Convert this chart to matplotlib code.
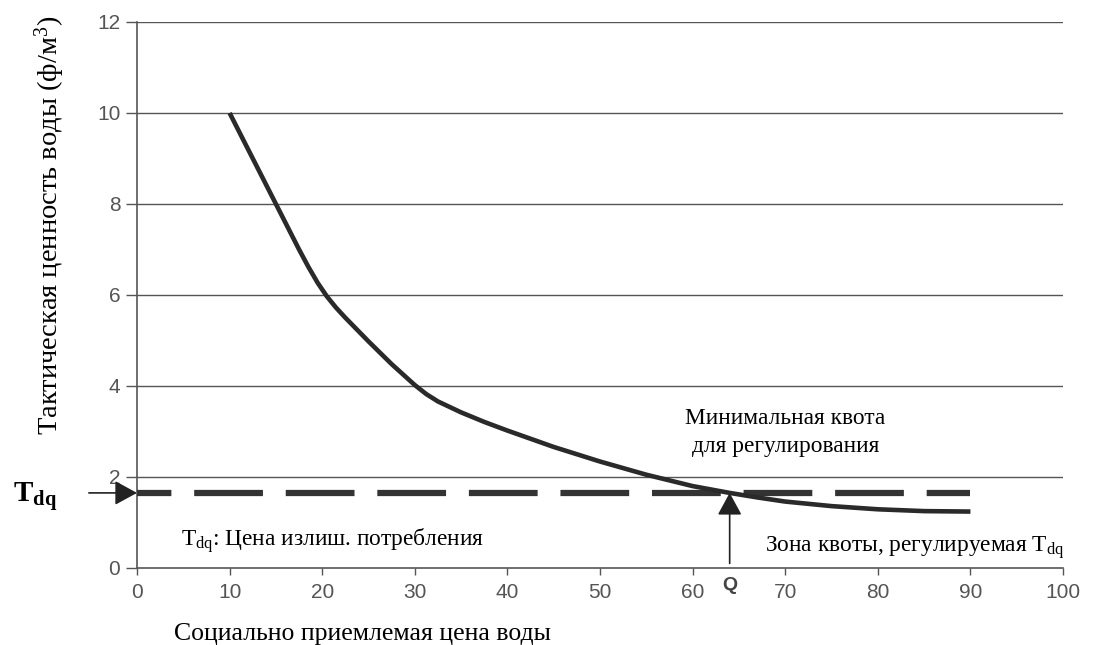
import matplotlib
matplotlib.use("Agg")
import matplotlib.pyplot as plt

serif = "Liberation Serif"
sans = "Liberation Sans"

# mathtext fonts must be set before any text is made
plt.rcParams["mathtext.fontset"] = "custom"
plt.rcParams["mathtext.rm"] = serif
plt.rcParams["mathtext.bf"] = serif + ":bold"
plt.rcParams["mathtext.it"] = serif + ":italic"

# curve
curve_x = [10, 12.5, 15, 17.5, 18.5, 19.5, 20.5, 21.5, 22.5, 25, 27.5, 30, 31.25, 32.5,
           35, 37.5, 40, 45, 50, 55, 60, 64, 67, 70, 75, 80, 85, 90]
curve_y = [10.0, 9.0, 8.0, 7.0, 6.62, 6.27, 5.97, 5.72, 5.5, 4.98, 4.48, 4.02, 3.82, 3.66,
           3.42, 3.21, 3.02, 2.66, 2.34, 2.05, 1.8, 1.65, 1.55, 1.46, 1.36, 1.29, 1.25, 1.24]

tdq = 1.65
q_x = 64
dash_x = [0, 90]

x_ticks = [0, 10, 20, 30, 40, 50, 60, 70, 80, 90, 100]
y_ticks = [0, 2, 4, 6, 8, 10, 12]

fig = plt.figure(figsize=(11.04, 6.45), dpi=100)
ax = fig.add_axes([0.1241, 0.1194, 0.8388, 0.8465])

ax.set_xlim(0, 100)
ax.set_ylim(0, 12)
ax.set_xticks(x_ticks)
ax.set_yticks(y_ticks)
for lab in ax.get_xticklabels() + ax.get_yticklabels():
    lab.set_fontfamily(sans)
ax.tick_params(labelsize=15, colors="#555555", width=1, direction="out")
ax.tick_params(axis="y", length=8, pad=4)
ax.tick_params(axis="x", length=5, pad=6)

for v in y_ticks[1:]:
    ax.axhline(v, color="#555555", lw=1.0, zorder=1)
for s in ["top", "right"]:
    ax.spines[s].set_visible(False)
for s in ["left", "bottom"]:
    ax.spines[s].set_color("#555555")
    ax.spines[s].set_linewidth(1.2)

ax.plot(curve_x, curve_y, color="#2a2a2a", lw=3.3, zorder=4,
        solid_capstyle="butt", solid_joinstyle="round")
ax.plot(dash_x, [tdq, tdq], color="#333333", lw=4.5,
        linestyle=(5.5, (11.0, 3.65)), zorder=3)

head = "-|>,head_length=0.55,head_width=0.3"
# arrow from left into the y axis
ax.annotate("", xy=(0, tdq), xytext=(-5.2, tdq), annotation_clip=False,
            arrowprops=dict(arrowstyle=head, color="#222222", lw=1.2, mutation_scale=25,
                            shrinkA=0, shrinkB=0))
# vertical arrow at Q
ax.annotate("", xy=(q_x, tdq), xytext=(q_x, 0.1),
            arrowprops=dict(arrowstyle=head, color="#222222", lw=1.2, mutation_scale=25,
                            shrinkA=0, shrinkB=0))

ax.text(-13.4, tdq - 0.08, r"$\mathbf{T_{dq}}$", fontsize=21, ha="left", va="center",
        clip_on=False)

ax.text(4.8, 0.61, r"$\mathrm{T_{dq}}$: Цена излиш. потребления", fontsize=16.8,
        fontfamily=serif, ha="left", va="center")
ax.text(100.2, 0.44, r"Зона квоты, регулируемая $\mathrm{T_{dq}}$", fontsize=16.8,
        fontfamily=serif, ha="right", va="center", clip_on=False)
ax.text(70, 2.98, "Минимальная квота\nдля регулирования", fontsize=16.8,
        fontfamily=serif, ha="center", va="center", linespacing=1.4)
ax.text(q_x, -0.38, "Q", fontsize=14, fontweight="bold", fontfamily=sans,
        color="#444444", ha="center", va="center", clip_on=False)

fig.text(0.158, 0.008, "Социально приемлемая цена воды", fontsize=18.5,
         fontfamily=serif, ha="left", va="baseline")
fig.text(0.045, 0.65, "Тактическая ценность воды (ф/м$^3$)", fontsize=20.5,
         fontfamily=serif, rotation=90, ha="center", va="center")

fig.savefig("out.png", dpi=100)
